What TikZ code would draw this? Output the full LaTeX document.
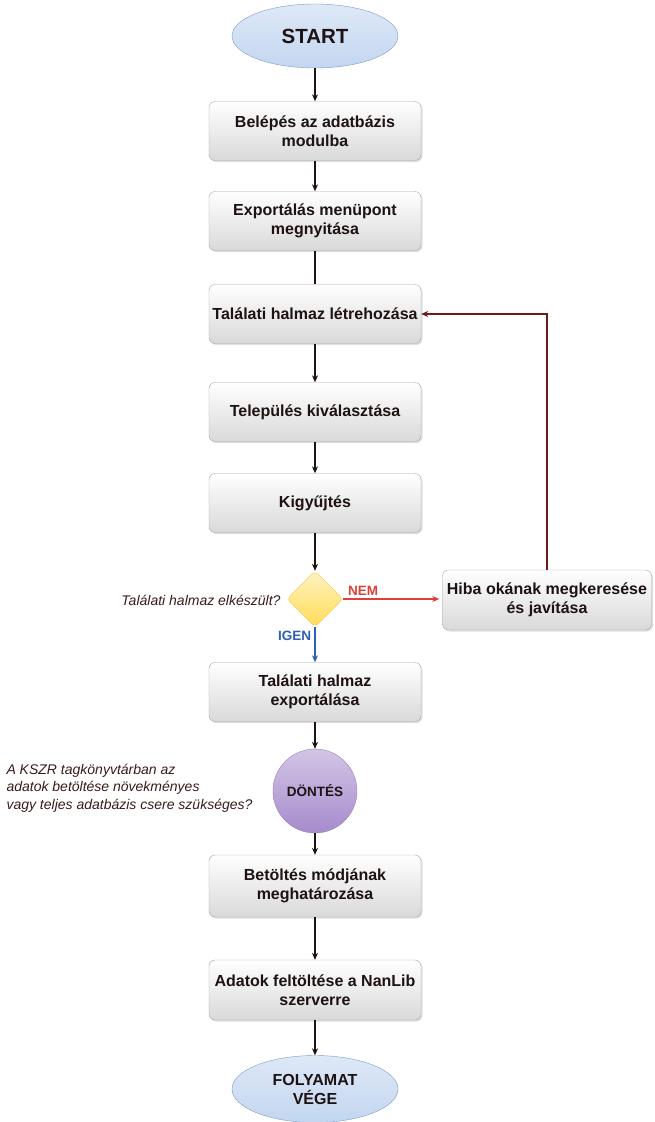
\documentclass[tikz,border=0pt]{standalone}
\usepackage{fontspec}
\setmainfont{Liberation Sans}
\usetikzlibrary{shapes.geometric,shadows,arrows.meta}

\definecolor{termfill}{HTML}{C3D6F0}
\definecolor{termline}{HTML}{7E9CC8}
\definecolor{dontfill}{HTML}{A68BCC}
\definecolor{dontline}{HTML}{9A80C2}
\definecolor{kerdfill}{HTML}{FFDC55}
\definecolor{igenblue}{HTML}{2E5FB8}
\definecolor{nemred}{HTML}{D9413A}
\definecolor{backred}{HTML}{6E1A1A}
\definecolor{qtext}{HTML}{3A1A1A}
\definecolor{vonal}{HTML}{1E1212}

\tikzset{
  lepes/.style={draw=gray!70, rounded corners=6pt, minimum width=212pt,
    minimum height=59pt, top color=white, bottom color=gray!30,
    drop shadow={opacity=0.25, shadow xshift=1.5pt, shadow yshift=-1.5pt},
    align=center, text=vonal, font=\fontsize{16}{19}\selectfont\bfseries},
  hatar/.style={ellipse, draw=termline, minimum width=166pt, minimum height=64pt,
    top color=termfill!55, bottom color=termfill, align=center, text=vonal},
  nyil/.style={-{Stealth[length=7pt,width=6pt]}, line width=1.2pt, draw=vonal},
  kerdes/.style={font=\fontsize{14}{17.5}\selectfont\itshape, text=qtext},
  agcimke/.style={font=\fontsize{13.5}{15}\selectfont\bfseries}
}

\begin{document}
\begin{tikzpicture}[x=1pt,y=-1pt]

  \useasboundingbox (0,0) rectangle (655,1122);

  \node[hatar, font=\fontsize{20.5}{22}\selectfont\bfseries] (start) at (315,36) {START};

  \node[lepes] (belep) at (315,131) {Belépés az adatbázis\\modulba};
  \node[lepes] (export) at (315,221) {Exportálás menüpont\\megnyitása};
  \node[lepes] (letre) at (315,314) {Találati halmaz létrehozása};
  \node[lepes] (telep) at (315,412) {Település kiválasztása};
  \node[lepes] (kigy) at (315,503) {Kigyűjtés};

  \node[diamond, draw=kerdfill!70!orange, rounded corners=4pt, top color=kerdfill!35,
    bottom color=kerdfill, minimum width=56pt, minimum height=56pt, inner sep=0pt] (kesz) at (315,599) {};
  \node[kerdes, anchor=east] (keszq) at (284,600) {Találati halmaz elkészült?};

  \node[lepes, minimum width=209pt, minimum height=60pt] (hiba) at (547,600)
    {Hiba okának megkeresése\\és javítása};

  \node[lepes] (halmexp) at (315,692) {Találati halmaz\\exportálása};

  \node[circle, draw=dontline, top color=dontfill!50, bottom color=dontfill,
    minimum size=84pt, text=vonal, font=\fontsize{13.5}{15}\selectfont\bfseries] (dontes) at (315,791) {DÖNTÉS};
  \node[kerdes, anchor=west, align=left] (dontesq) at (3,788)
    {A KSZR tagkönyvtárban az\\adatok betöltése növekményes\\vagy teljes adatbázis csere szükséges?};

  \node[lepes, minimum height=62pt] (modja) at (315,886) {Betöltés módjának\\meghatározása};
  \node[lepes, minimum height=60pt] (feltolt) at (315,990) {Adatok feltöltése a NanLib\\szerverre};

  \node[hatar, minimum height=67pt, font=\fontsize{16}{19}\selectfont\bfseries] (vege) at (315,1089)
    {FOLYAMAT\\VÉGE};

  % fo ag
  \draw[nyil] (start) -- (belep);
  \draw[nyil] (belep) -- (export);
  \draw[nyil, -] (export) -- (letre);
  \draw[nyil] (letre) -- (telep);
  \draw[nyil] (telep) -- (kigy);
  \draw[nyil] (kigy) -- (kesz);

  % elagazas
  \draw[nyil, draw=igenblue, fill=igenblue] (kesz) -- node[pos=0.25, left, text=igenblue, agcimke] {IGEN} (halmexp);
  \draw[nyil, draw=nemred, fill=nemred] (kesz.east) -- node[pos=0, anchor=south west, xshift=1pt, text=nemred, agcimke] {NEM} ([xshift=-3pt]kesz.east -| hiba.west);
  \draw[nyil, draw=backred] (hiba.north) |- (letre.east);

  \draw[nyil] (halmexp) -- (dontes);
  \draw[nyil] (dontes) -- (modja);
  \draw[nyil] (modja) -- (feltolt);
  \draw[nyil] (feltolt) -- (vege);

\end{tikzpicture}
\end{document}
